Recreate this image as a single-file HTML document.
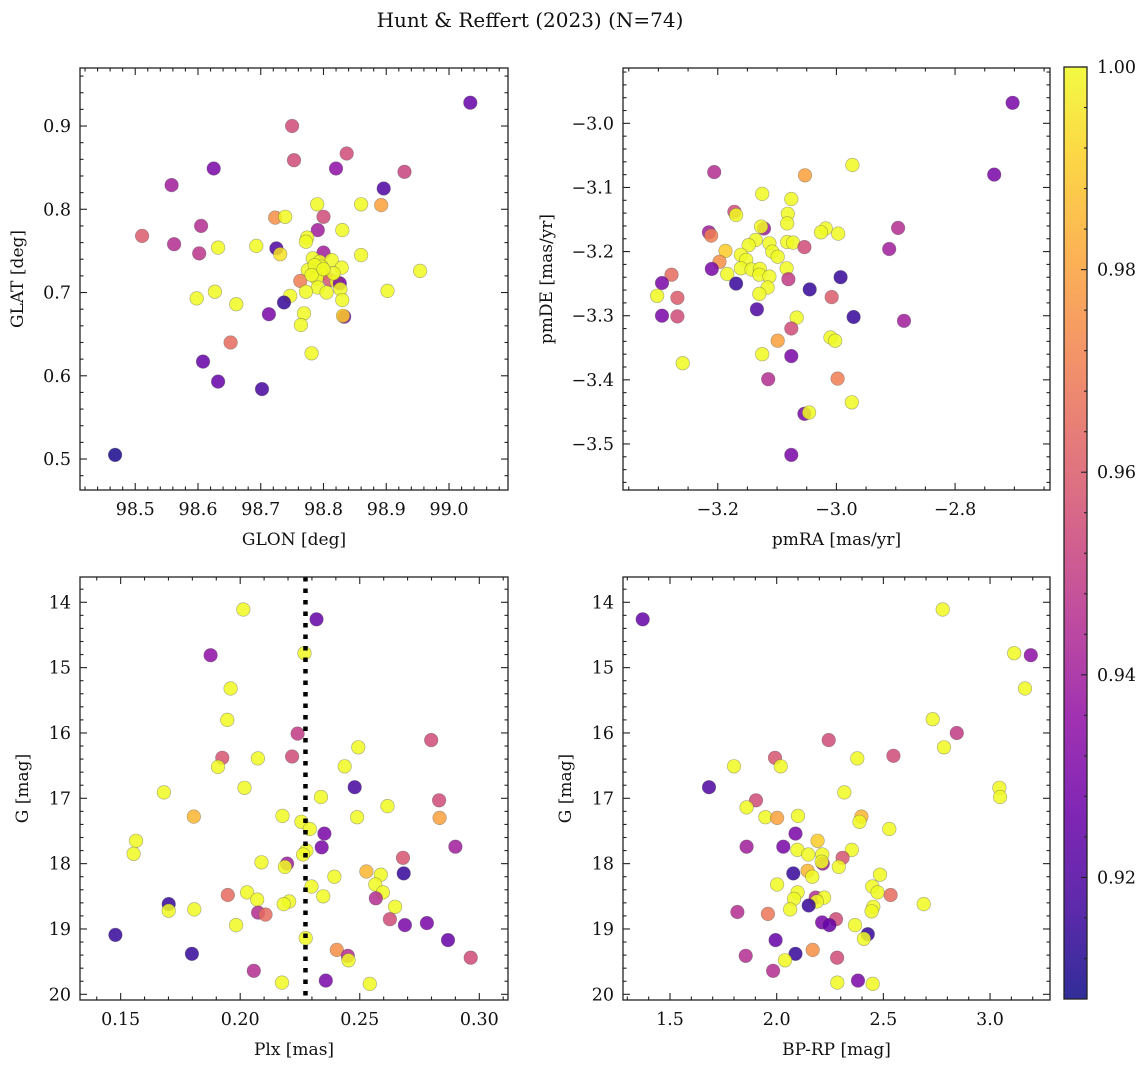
<!DOCTYPE html>
<html><head><meta charset="utf-8"><style>
html,body{margin:0;padding:0;background:#fff;}
svg{display:block;font-family:"DejaVu Serif","Liberation Serif",serif;}
</style></head><body>
<svg id="fig" width="1148" height="1067" viewBox="0 0 1148 1067" xmlns="http://www.w3.org/2000/svg">
<text x="530" y="27" font-size="20" text-anchor="middle" fill="#111">Hunt &amp; Reffert (2023) (N=74)</text>
</svg>
<script>
// Panel 1: GLON vs GLAT
const p1x=[98.468,99.034,98.75,98.753,98.837,98.82,98.929,98.625,98.558,98.896,98.511,98.605,98.562,98.602,98.79,98.86,98.892,98.723,98.739,98.80,98.791,98.83,98.774,98.772,98.725,98.731,98.693,98.632,98.80,98.86,98.783,98.794,98.813,98.797,98.829,98.775,98.798,98.954,98.763,98.789,98.81,98.821,98.826,98.827,98.791,98.805,98.772,98.747,98.83,98.902,98.627,98.598,98.661,98.737,98.713,98.769,98.764,98.833,98.831,98.652,98.781,98.608,98.632,98.702,98.786,98.781,98.816,98.80];
const p1y=[0.505,0.928,0.900,0.859,0.867,0.849,0.845,0.849,0.829,0.825,0.768,0.780,0.758,0.747,0.806,0.806,0.805,0.790,0.791,0.791,0.775,0.775,0.766,0.761,0.753,0.746,0.756,0.754,0.748,0.745,0.741,0.737,0.739,0.731,0.730,0.727,0.723,0.726,0.714,0.717,0.715,0.713,0.711,0.704,0.706,0.700,0.701,0.696,0.691,0.702,0.701,0.693,0.686,0.688,0.674,0.675,0.661,0.671,0.672,0.640,0.627,0.617,0.593,0.584,0.733,0.721,0.723,0.728];
const p1c=[0.91,0.925,0.955,0.955,0.955,0.935,0.952,0.93,0.94,0.92,0.96,0.945,0.945,0.948,1,1,0.98,0.975,1,0.955,0.94,1,1,1,0.92,0.995,1,1,0.94,1,1,1,1,1,1,1,1,1,0.97,1,0.958,1,0.93,1,1,1,1,1,1,1,1,1,1,0.915,0.93,1,1,0.93,0.99,0.965,1,0.925,0.925,0.918,1,1,1,1];
// Panel 2: pmRA vs pmDE
const p2x=[-2.703,-2.734,-2.973,-3.053,-3.206,-3.125,-3.076,-3.172,-3.169,-3.082,-3.083,-3.122,-3.127,-2.896,-3.018,-3.026,-2.997,-3.215,-3.211,-3.136,-3.113,-3.083,-3.073,-3.148,-3.054,-2.911,-3.187,-3.108,-3.099,-3.161,-3.152,-3.197,-3.161,-3.143,-3.129,-3.084,-3.184,-3.130,-3.113,-3.210,-3.278,-3.294,-3.169,-3.081,-2.993,-3.302,-3.268,-3.116,-3.130,-3.045,-3.008,-3.134,-3.294,-3.268,-2.971,-2.886,-3.067,-3.076,-3.010,-3.002,-3.099,-3.125,-3.076,-3.259,-3.115,-2.998,-2.974,-3.054,-3.046,-3.076];
const p2y=[-2.968,-3.080,-3.065,-3.081,-3.076,-3.110,-3.118,-3.138,-3.143,-3.141,-3.156,-3.164,-3.161,-3.163,-3.164,-3.170,-3.172,-3.170,-3.175,-3.182,-3.187,-3.185,-3.186,-3.190,-3.193,-3.196,-3.199,-3.200,-3.208,-3.205,-3.213,-3.216,-3.226,-3.228,-3.227,-3.226,-3.235,-3.236,-3.239,-3.227,-3.236,-3.249,-3.250,-3.243,-3.240,-3.269,-3.272,-3.256,-3.266,-3.259,-3.271,-3.290,-3.300,-3.301,-3.302,-3.308,-3.303,-3.320,-3.334,-3.339,-3.339,-3.360,-3.363,-3.374,-3.399,-3.398,-3.435,-3.453,-3.451,-3.517];
const p2c=[0.93,0.93,1,0.98,0.945,1,1,0.955,1,1,1,0.94,1,0.945,1,1,1,0.94,0.97,1,1,1,1,1,0.955,0.94,0.99,1,1,1,1,0.975,1,1,1,1,1,1,1,0.93,0.965,0.93,0.915,0.95,0.915,1,0.96,1,1,0.915,0.96,0.92,0.93,0.955,0.915,0.94,1,0.955,1,1,0.98,1,0.93,1,0.945,0.97,1,0.93,1,0.93];
// Panel 3: Plx vs G
const p3x=[0.2013,0.2319,0.1876,0.2269,0.1960,0.1946,0.2240,0.2799,0.1925,0.1907,0.2074,0.2217,0.2494,0.2437,0.1681,0.2018,0.2479,0.2338,0.2616,0.2832,0.1806,0.2177,0.2256,0.2489,0.2834,0.2291,0.2352,0.1564,0.1554,0.2341,0.2900,0.2277,0.2263,0.2681,0.2089,0.2196,0.2187,0.2528,0.2588,0.2684,0.2394,0.2298,0.2565,0.2597,0.2567,0.2347,0.2029,0.1948,0.2071,0.1701,0.1701,0.1808,0.2205,0.2182,0.2075,0.2106,0.2648,0.1983,0.2626,0.2689,0.2781,0.1478,0.2274,0.2869,0.1798,0.2404,0.2450,0.2453,0.2964,0.2057,0.2175,0.2358,0.2542];
const p3y=[14.11,14.26,14.81,14.78,15.32,15.80,16.01,16.11,16.38,16.52,16.39,16.36,16.22,16.51,16.91,16.84,16.83,16.98,17.12,17.03,17.28,17.27,17.36,17.29,17.30,17.47,17.54,17.65,17.85,17.75,17.74,17.80,17.86,17.91,17.98,18.00,18.05,18.12,18.17,18.15,18.20,18.35,18.32,18.44,18.53,18.50,18.44,18.48,18.55,18.62,18.72,18.70,18.58,18.62,18.75,18.78,18.66,18.94,18.85,18.94,18.91,19.09,19.14,19.17,19.38,19.32,19.41,19.48,19.44,19.64,19.82,19.79,19.84];
const p3c=[1,0.925,0.935,1,1,1,0.95,0.955,0.958,1,1,0.955,1,1,1,1,0.918,1,1,0.955,0.985,1,1,1,0.98,1,0.93,1,1,0.93,0.94,1,1,0.958,1,0.94,1,0.985,1,0.915,1,1,1,1,0.945,1,1,0.965,1,0.915,1,1,1,1,0.945,0.965,1,1,0.955,0.93,0.93,0.915,1,0.925,0.915,0.975,0.945,1,0.955,0.945,1,0.93,1];
const plxLine=0.2273;
// Panel 4: BP-RP vs G
const p4x=[1.372,2.778,3.113,3.191,3.164,2.731,2.844,2.244,2.784,2.547,2.378,1.992,2.019,1.800,1.683,3.044,3.047,2.317,1.903,1.859,1.947,2.002,2.100,2.397,2.388,2.528,2.088,1.859,2.031,2.192,2.097,2.148,2.214,2.352,2.309,2.216,2.211,2.291,2.145,2.167,2.078,2.484,2.002,2.448,2.473,2.098,2.081,2.183,2.222,2.188,2.150,2.534,2.689,2.453,2.445,2.063,1.816,1.959,2.278,2.213,2.247,2.367,2.427,2.409,1.995,2.088,2.169,1.855,2.039,2.283,1.983,2.284,2.381,2.450];
const p4y=[14.26,14.11,14.78,14.81,15.32,15.79,16.00,16.11,16.22,16.35,16.39,16.38,16.51,16.51,16.83,16.84,16.98,16.91,17.03,17.14,17.29,17.30,17.27,17.28,17.36,17.47,17.54,17.74,17.74,17.65,17.79,17.86,17.86,17.79,17.91,18.00,17.97,18.05,18.11,18.20,18.15,18.17,18.32,18.35,18.44,18.44,18.54,18.52,18.52,18.58,18.64,18.48,18.62,18.66,18.73,18.70,18.74,18.77,18.85,18.90,18.94,18.94,19.08,19.15,19.17,19.38,19.32,19.41,19.48,19.44,19.64,19.82,19.79,19.84];
const p4c=[0.925,1,1,0.935,1,1,0.95,0.955,1,0.955,1,0.958,1,1,0.92,1,1,1,0.955,1,1,0.98,1,0.985,1,1,0.93,0.94,0.93,0.99,1,1,1,1,0.958,0.94,1,1,0.985,1,0.915,1,1,1,1,1,1,0.945,1,1,0.915,0.965,1,1,1,1,0.945,0.968,0.955,0.93,0.925,1,0.915,1,0.925,0.915,0.975,0.945,1,0.955,0.945,1,0.93,1];
// colorbar
const cbTicks=[0.92,0.94,0.96,0.98,1.00];
const cMin=0.908, cMax=1.0;

const NS='http://www.w3.org/2000/svg';
const fig=document.getElementById('fig');
function mk(tag,attrs,parent){const e=document.createElementNS(NS,tag);for(const k in attrs)e.setAttribute(k,attrs[k]);(parent||fig).appendChild(e);return e;}
const stops=[[13,8,135],[65,4,157],[106,0,168],[143,13,164],[177,42,144],[204,71,120],[225,100,98],[242,132,75],[252,166,54],[252,206,37],[240,249,33]];
function plasma(t){t=Math.max(0,Math.min(1,t));const s=t*10,i=Math.min(9,Math.floor(s)),f=s-i;const a=stops[i],b=stops[i+1];return 'rgb('+a.map((v,k)=>Math.round(v+(b[k]-v)*f)).join(',')+')';}
function cmap(v){return plasma((v-cMin)/(cMax-cMin));}

function panel(cfg){
  const {name,L,R,T,B,x0,x1,y0,y1,xt,xfmt,xminor,yt,yfmt,yminor,xlabel,ylabel,ylx,xs,ys,cs,invert}=cfg;
  const g=mk('g',{});
  
  
  const X=v=>L+(v-x0)/(x1-x0)*(R-L);
  const Y=invert?(v=>T+(v-y0)/(y1-y0)*(B-T)):(v=>B-(v-y0)/(y1-y0)*(B-T));
  const pg=mk('g',{},g);
  
  
  for(let i=0;i<xs.length;i++){
    const c=mk('circle',{cx:X(xs[i]).toFixed(1),cy:Y(ys[i]).toFixed(1),r:6.8,fill:cmap(cs[i]),'fill-opacity':0.85,stroke:'#555','stroke-opacity':0.5,'stroke-width':0.6},pg);
    
    
  }
  if(cfg.vline!==undefined){
    const l=mk('line',{x1:X(cfg.vline),x2:X(cfg.vline),y1:T,y2:B,stroke:'#000','stroke-width':4.5,'stroke-dasharray':'4.5,7'},g);
    
    
  }
  const fr=mk('rect',{x:L,y:T,width:R-L,height:B-T,fill:'none',stroke:'#222','stroke-width':1.3},g);
  
  
  const tk=mk('g',{stroke:'#222','stroke-width':1.1},g);
  const xmin=Math.min(x0,x1),xmax=Math.max(x0,x1);
  for(let v=Math.ceil(xmin/xminor-1e-6)*xminor; v<=xmax+1e-9; v+=xminor){
    const px=X(v); if(px<L+0.5||px>R-0.5) continue;
    const major=xt.some(m=>Math.abs(m-v)<xminor/10); const len=major?7:3.5;
    mk('line',{x1:px,x2:px,y1:B,y2:B-len},tk); mk('line',{x1:px,x2:px,y1:T,y2:T+len},tk);
  }
  const ymin=Math.min(y0,y1),ymax=Math.max(y0,y1);
  for(let v=Math.ceil(ymin/yminor-1e-6)*yminor; v<=ymax+1e-9; v+=yminor){
    const py=Y(v); if(py<T+0.5||py>B-0.5) continue;
    const major=yt.some(m=>Math.abs(m-v)<yminor/10); const len=major?7:3.5;
    mk('line',{x1:L,x2:L+len,y1:py,y2:py},tk); mk('line',{x1:R,x2:R-len,y1:py,y2:py},tk);
  }
  xt.forEach(v=>{const t=mk('text',{x:X(v),y:B+25,'font-size':17.5,'text-anchor':'middle',fill:'#111'},g);t.textContent=xfmt(v);
    
    });
  yt.forEach(v=>{const t=mk('text',{x:L-9,y:Y(v)+6,'font-size':17.5,'text-anchor':'end',fill:'#111'},g);t.textContent=yfmt(v);
    
    });
  const xl=mk('text',{x:(L+R)/2,y:B+55,'font-size':17,'text-anchor':'middle',fill:'#111'},g);xl.textContent=xlabel;
  
  
  const yy=(T+B)/2;
  const yl=mk('text',{x:ylx,y:yy,'font-size':17,'text-anchor':'middle',fill:'#111',transform:`rotate(-90 ${ylx} ${yy})`},g);yl.textContent=ylabel;
  
  
}
const m=v=>(v<0?'\u2212':'')+Math.abs(v).toFixed(1);
panel({name:'glon-glat-panel',L:80,R:508,T:68,B:490,x0:98.412,x1:99.094,y0:0.4628,y1:0.9697,
  xt:[98.5,98.6,98.7,98.8,98.9,99.0],xfmt:v=>v.toFixed(1),xminor:0.02,
  yt:[0.5,0.6,0.7,0.8,0.9],yfmt:v=>v.toFixed(1),yminor:0.02,xlabel:'GLON [deg]',ylabel:'GLAT [deg]',ylx:23,xs:p1x,ys:p1y,cs:p1c});
panel({name:'proper-motion-panel',L:623,R:1050,T:68,B:490,x0:-3.3597,x1:-2.640,y0:-3.5718,y1:-2.9137,
  xt:[-3.2,-3.0,-2.8],xfmt:m,xminor:0.05,
  yt:[-3.5,-3.4,-3.3,-3.2,-3.1,-3.0],yfmt:m,yminor:0.02,xlabel:'pmRA [mas/yr]',ylabel:'pmDE [mas/yr]',ylx:552,xs:p2x,ys:p2y,cs:p2c});
panel({name:'plx-g-panel',L:80,R:508,T:577,B:1000,x0:0.1330,x1:0.3120,y0:13.613,y1:20.087,invert:true,
  xt:[0.15,0.20,0.25,0.30],xfmt:v=>v.toFixed(2),xminor:0.01,
  yt:[14,15,16,17,18,19,20],yfmt:v=>String(v),yminor:0.2,xlabel:'Plx [mas]',ylabel:'G [mag]',ylx:28,xs:p3x,ys:p3y,cs:p3c,vline:plxLine});
panel({name:'cmd-panel',L:623,R:1050,T:577,B:1000,x0:1.2797,x1:3.281,y0:13.613,y1:20.087,invert:true,
  xt:[1.5,2.0,2.5,3.0],xfmt:v=>v.toFixed(1),xminor:0.1,
  yt:[14,15,16,17,18,19,20],yfmt:v=>String(v),yminor:0.2,xlabel:'BP-RP [mag]',ylabel:'G [mag]',ylx:571,xs:p4x,ys:p4y,cs:p4c});

(function(){
  const L=1064,R=1087,T=67,B=999;
  const g=mk('g',{});
  
  
  const defs=mk('defs',{},g);
  const lg=mk('linearGradient',{id:'cbg',x1:0,y1:1,x2:0,y2:0},defs);
  for(let i=0;i<=20;i++){mk('stop',{offset:(i/20),'stop-color':plasma(i/20),'stop-opacity':0.85},lg);}
  mk('rect',{x:L,y:T,width:R-L,height:B-T,fill:'url(#cbg)',stroke:'#222','stroke-width':1.3},g);
  const Y=v=>B-(v-cMin)/(cMax-cMin)*(B-T);
  for(let v=0.912;v<=1.0001;v+=0.004){const py=Y(v);const major=cbTicks.some(t=>Math.abs(t-v)<0.0005);
    mk('line',{x1:R,x2:R-(major?6:3),y1:py,y2:py,stroke:'#222','stroke-width':1.1},g);}
  cbTicks.forEach(v=>{const t=mk('text',{x:R+10,y:Y(v)+6,'font-size':17.5,fill:'#111'},g);t.textContent=v.toFixed(2);
    
    });
})();
</script>
</body></html>
